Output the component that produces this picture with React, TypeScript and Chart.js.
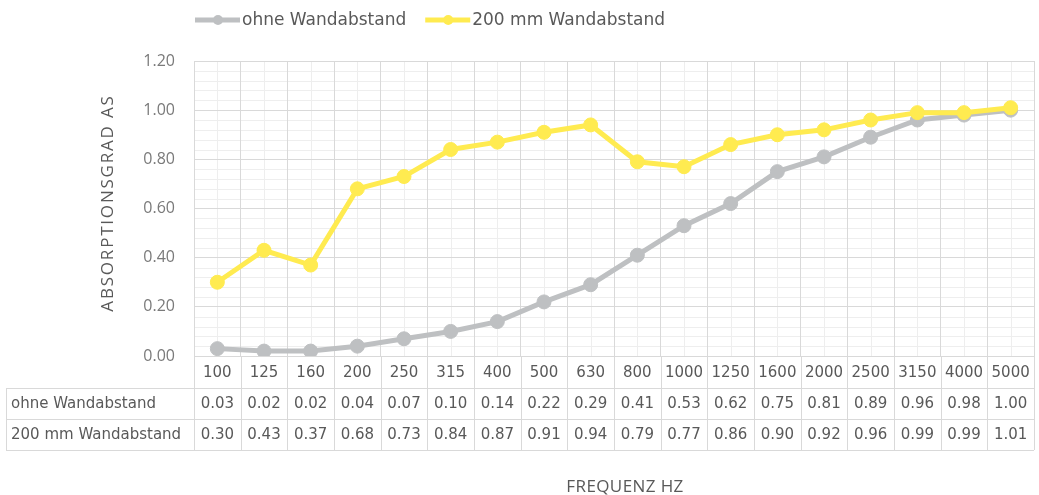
import { useEffect, useRef } from 'react';
import { Chart, registerables } from 'chart.js';

Chart.register(...registerables);

const categories = ['100', '125', '160', '200', '250', '315', '400', '500', '630', '800', '1000', '1250', '1600', '2000', '2500', '3150', '4000', '5000'];
const ohneWandabstand = [0.03, 0.02, 0.02, 0.04, 0.07, 0.10, 0.14, 0.22, 0.29, 0.41, 0.53, 0.62, 0.75, 0.81, 0.89, 0.96, 0.98, 1.00];
const mm200Wandabstand = [0.30, 0.43, 0.37, 0.68, 0.73, 0.84, 0.87, 0.91, 0.94, 0.79, 0.77, 0.86, 0.90, 0.92, 0.96, 0.99, 0.99, 1.01];
const seriesLabels = ['ohne Wandabstand', '200 mm Wandabstand'];
const yMin = 0;
const yMax = 1.2;
const yStep = 0.2;
const yMinorStep = 0.04;
const xTitle = 'FREQUENZ HZ';
const yTitle = 'ABSORPTIONSGRAD AS';

const GRID = '#d9d9d9';
const MINOR = '#eeeeee';
const TEXT = '#595959';
const GRAY = '#BEC0C2';
const YELLOW = '#FFEB50';

const tablePlugin = {
  id: 'tableAndExtras',
  beforeDraw(chart: any) {
    const { ctx, chartArea: ca, scales } = chart;
    const x = scales.x;
    const y = scales.y;
    ctx.save();
    ctx.strokeStyle = MINOR;
    ctx.lineWidth = 1;
    const n = Math.round((yMax - yMin) / yMinorStep);
    const ratio = Math.round(yStep / yMinorStep);
    for (let i = 1; i < n; i++) {
      if (i % ratio === 0) continue;
      const py = Math.round(y.getPixelForValue(yMin + i * yMinorStep)) + 0.5;
      ctx.beginPath();
      ctx.moveTo(ca.left, py);
      ctx.lineTo(ca.right, py);
      ctx.stroke();
    }
    for (let i = 0; i < categories.length; i++) {
      const px = Math.round(x.getPixelForValue(i)) + 0.5;
      ctx.beginPath();
      ctx.moveTo(px, ca.top);
      ctx.lineTo(px, ca.bottom);
      ctx.stroke();
    }
    ctx.restore();
  },
  afterDraw(chart: any) {
    const { ctx, chartArea: ca, scales } = chart;
    const x = scales.x;
    const datasets = chart.data.datasets;
    ctx.save();
    // table
    const headerTop = ca.bottom;
    const headerBottom = x.bottom;
    const rowH = 31;
    const tableLeft = 6;
    const rows = [ohneWandabstand, mm200Wandabstand];
    const tableBottom = headerBottom + rowH * rows.length;
    ctx.strokeStyle = GRID;
    ctx.lineWidth = 1;
    for (let r = 0; r <= rows.length; r++) {
      const py = Math.round(headerBottom + r * rowH) + 0.5;
      ctx.beginPath();
      ctx.moveTo(tableLeft, py);
      ctx.lineTo(ca.right, py);
      ctx.stroke();
    }
    const lx = tableLeft + 0.5;
    ctx.beginPath();
    ctx.moveTo(lx, headerBottom);
    ctx.lineTo(lx, tableBottom);
    ctx.stroke();
    const half = (x.getPixelForValue(1) - x.getPixelForValue(0)) / 2;
    for (let i = 0; i <= categories.length; i++) {
      const px = Math.round(x.getPixelForValue(0) - half + i * 2 * half) + 0.5;
      ctx.beginPath();
      ctx.moveTo(px, headerTop);
      ctx.lineTo(px, tableBottom);
      ctx.stroke();
    }
    ctx.fillStyle = TEXT;
    ctx.font = '15px "DejaVu Sans"';
    ctx.textBaseline = 'middle';
    rows.forEach((vals, r) => {
      const cy = headerBottom + r * rowH + rowH / 2 + 1;
      ctx.textAlign = 'left';
      ctx.fillText(seriesLabels[r], 11, cy);
      ctx.textAlign = 'center';
      vals.forEach((v, i) => {
        ctx.fillText(v.toFixed(2), x.getPixelForValue(i), cy);
      });
    });
    // legend
    ctx.font = '17px "DejaVu Sans"';
    ctx.textAlign = 'left';
    let lxp = 195;
    const ly = 20;
    const order = [1, 0];
    order.forEach((di) => {
      const ds = datasets[di];
      ctx.strokeStyle = ds.borderColor;
      ctx.lineWidth = 5;
      ctx.beginPath();
      ctx.moveTo(lxp, ly);
      ctx.lineTo(lxp + 45, ly);
      ctx.stroke();
      ctx.fillStyle = ds.borderColor;
      ctx.beginPath();
      ctx.arc(lxp + 23, ly, 5, 0, Math.PI * 2);
      ctx.fill();
      ctx.fillStyle = TEXT;
      ctx.fillText(ds.label, lxp + 47, ly + 1);
      lxp += 47 + ctx.measureText(ds.label).width + 19;
    });
    // titles
    ctx.fillStyle = TEXT;
    ctx.font = '17px "Open Sans"';
    ctx.textAlign = 'center';
    (ctx as any).letterSpacing = '0.4px';
    ctx.fillText(xTitle, 625, 487);
    (ctx as any).letterSpacing = '1.8px';
    ctx.translate(108, 203);
    ctx.rotate(-Math.PI / 2);
    ctx.fillText(yTitle, 0, 0);
    ctx.restore();
  },
};

export default function App() {
  const canvasRef = useRef<HTMLCanvasElement | null>(null);
  useEffect(() => {
    if (!canvasRef.current) return;
    const chart = new Chart(canvasRef.current, {
      type: 'line',
      data: {
        labels: categories,
        datasets: [
          {
            label: seriesLabels[1],
            data: mm200Wandabstand,
            borderColor: YELLOW,
            backgroundColor: YELLOW,
            borderWidth: 5,
            pointRadius: 7,
            pointHoverRadius: 7,
            pointBorderWidth: 1,
            pointBackgroundColor: YELLOW,
            order: 0,
          },
          {
            label: seriesLabels[0],
            data: ohneWandabstand,
            borderColor: GRAY,
            backgroundColor: GRAY,
            borderWidth: 5,
            pointRadius: 7,
            pointHoverRadius: 7,
            pointBorderWidth: 1,
            pointBackgroundColor: GRAY,
            order: 1,
          },
        ],
      },
      options: {
        animation: false,
        responsive: true,
        maintainAspectRatio: false,
        layout: { padding: { top: 61, bottom: 107, left: 0, right: 0 } },
        plugins: { legend: { display: false }, tooltip: { enabled: false } },
        scales: {
          x: {
            type: 'category',
            offset: true,
            grid: { offset: true, color: GRID, drawTicks: false },
            border: { color: GRID },
            ticks: {
              font: { family: 'DejaVu Sans', size: 15 },
              color: TEXT,
              padding: 8,
              autoSkip: false,
              maxRotation: 0,
            },
            afterFit: (s: any) => { s.height = 32; },
          },
          y: {
            min: yMin,
            max: yMax,
            grid: { color: GRID, drawTicks: false },
            border: { color: GRID },
            ticks: {
              stepSize: yStep,
              callback: (v: any) => Number(v).toFixed(2),
              font: { family: 'Open Sans', size: 16 },
              color: '#7a7a7a',
              padding: 19,
            },
            afterFit: (s: any) => { s.width = 194; },
          },
        },
      },
      plugins: [tablePlugin],
    } as any);
    return () => chart.destroy();
  }, []);
  return (
    <div style={{ position: 'fixed', left: 0, top: 0, width: 1039, height: 495, overflow: 'hidden', background: '#fff' }}>
      <div style={{ position: 'relative', width: 1042, height: 495 }}>
        <canvas ref={canvasRef} />
      </div>
    </div>
  );
}
